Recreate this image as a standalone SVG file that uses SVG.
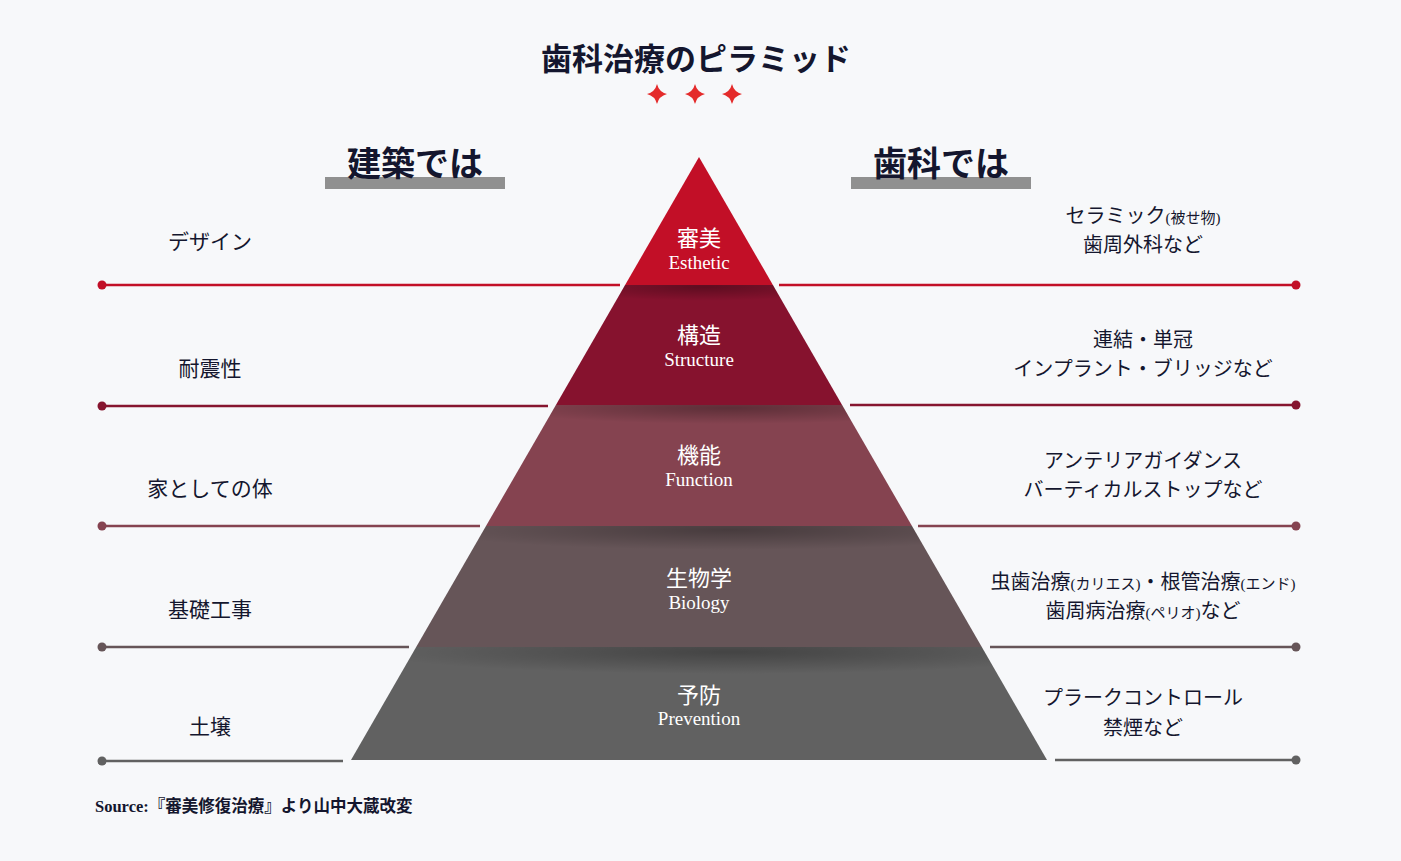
<svg xmlns="http://www.w3.org/2000/svg" width="1401" height="861" viewBox="0 0 1401 861">
<style>
.t{font-family:"Liberation Serif","Noto Sans CJK JP",serif;fill:#14162e;text-anchor:middle}
.h{font-size:34px;font-weight:bold}
.l{font-size:21px}
.r{font-size:20px}
.s{font-size:15px}
.w{font-family:"Liberation Serif","Noto Sans CJK JP",serif;fill:#fff;text-anchor:middle}
.wj{font-size:22px}
.we{font-size:19px}
.ln{stroke-width:2.5;fill:none}
</style>
<defs>
<radialGradient id="sh" cx="0.5" cy="0.5" r="0.5">
<stop offset="0" stop-color="#000" stop-opacity="0.3"/>
<stop offset="0.6" stop-color="#000" stop-opacity="0.12"/>
<stop offset="1" stop-color="#000" stop-opacity="0"/>
</radialGradient>
<clipPath id="c2"><polygon points="625.1,285 772.9,285 842.1,405 555.9,405"/></clipPath>
<clipPath id="c3"><polygon points="555.9,405 842.1,405 912,526 486,526"/></clipPath>
<clipPath id="c4"><polygon points="486,526 912,526 981.8,647 416.2,647"/></clipPath>
<clipPath id="c5"><polygon points="416.2,647 981.8,647 1047,760 351,760"/></clipPath>
</defs>
<rect width="1401" height="861" fill="#f7f8fa"/>
<g id="title">
<text class="t" x="696" y="70" style="font-size:31px;font-weight:bold">歯科治療のピラミッド</text>
<g fill="#e42b2b">
<path d="M657,84 Q659,92 667,94 Q659,96 657,104 Q655,96 647,94 Q655,92 657,84Z"/>
<path d="M695,84 Q697,92 705,94 Q697,96 695,104 Q693,96 685,94 Q693,92 695,84Z"/>
<path d="M732,84 Q734,92 742,94 Q734,96 732,104 Q730,96 722,94 Q730,92 732,84Z"/>
</g>
</g>
<g id="head-left">
<rect x="325" y="177" width="180" height="12" fill="#909090"/>
<text class="t h" x="415" y="176">建築では</text>
</g>
<g id="head-right">
<rect x="851" y="177" width="180" height="12" fill="#909090"/>
<text class="t h" x="941" y="176">歯科では</text>
</g>
<g id="connectors">
<g fill="#c20f27" stroke="#c20f27"><line class="ln" x1="102" y1="285" x2="620" y2="285"/><line class="ln" x1="779" y1="285" x2="1296" y2="285"/><circle cx="102" cy="285" r="4.5" stroke="none"/><circle cx="1296" cy="285" r="4.5" stroke="none"/></g>
<g fill="#86152f" stroke="#86152f"><line class="ln" x1="102" y1="406" x2="548" y2="406"/><line class="ln" x1="850" y1="405" x2="1296" y2="405"/><circle cx="102" cy="406" r="4.5" stroke="none"/><circle cx="1296" cy="405" r="4.5" stroke="none"/></g>
<g fill="#854350" stroke="#854350"><line class="ln" x1="102" y1="526" x2="480" y2="526"/><line class="ln" x1="918" y1="526" x2="1296" y2="526"/><circle cx="102" cy="526" r="4.5" stroke="none"/><circle cx="1296" cy="526" r="4.5" stroke="none"/></g>
<g fill="#665558" stroke="#665558"><line class="ln" x1="102" y1="647" x2="409" y2="647"/><line class="ln" x1="990" y1="647" x2="1296" y2="647"/><circle cx="102" cy="647" r="4.5" stroke="none"/><circle cx="1296" cy="647" r="4.5" stroke="none"/></g>
<g fill="#616161" stroke="#616161"><line class="ln" x1="102" y1="761" x2="343" y2="761"/><line class="ln" x1="1055" y1="760" x2="1296" y2="760"/><circle cx="102" cy="761" r="4.5" stroke="none"/><circle cx="1296" cy="760" r="4.5" stroke="none"/></g>
</g>
<g id="band-esthetic">
<polygon points="699,157 772.9,285 625.1,285" fill="#c20f27"/>
<text class="w wj" x="699" y="246">審美</text>
<text class="w we" x="699" y="269">Esthetic</text>
</g>
<g id="band-structure">
<polygon points="625.1,285 772.9,285 842.1,405 555.9,405" fill="#86122e"/>
<ellipse cx="705" cy="287" rx="140" ry="14" fill="url(#sh)" clip-path="url(#c2)"/>
<text class="w wj" x="699" y="343">構造</text>
<text class="w we" x="699" y="366">Structure</text>
</g>
<g id="band-function">
<polygon points="555.9,405 842.1,405 912,526 486,526" fill="#854350"/>
<ellipse cx="730" cy="408" rx="230" ry="16" fill="url(#sh)" clip-path="url(#c3)"/>
<text class="w wj" x="699" y="463">機能</text>
<text class="w we" x="699" y="486">Function</text>
</g>
<g id="band-biology">
<polygon points="486,526 912,526 981.8,647 416.2,647" fill="#665558"/>
<ellipse cx="730" cy="530" rx="300" ry="20" fill="url(#sh)" clip-path="url(#c4)"/>
<text class="w wj" x="699" y="586">生物学</text>
<text class="w we" x="699" y="609">Biology</text>
</g>
<g id="band-prevention">
<polygon points="416.2,647 981.8,647 1047,760 351,760" fill="#616161"/>
<ellipse cx="730" cy="652" rx="360" ry="22" fill="url(#sh)" clip-path="url(#c5)"/>
<text class="w wj" x="699" y="703">予防</text>
<text class="w we" x="699" y="725">Prevention</text>
</g>
<g id="left-labels">
<text class="t l" x="210" y="249">デザイン</text>
<text class="t l" x="210" y="376">耐震性</text>
<text class="t l" x="210" y="496">家としての体</text>
<text class="t l" x="210" y="617">基礎工事</text>
<text class="t l" x="210" y="734">土壌</text>
</g>
<g id="right-1">
<text class="t r" x="1143" y="223">セラミック<tspan class="s">(被せ物)</tspan></text>
<text class="t r" x="1143" y="252">歯周外科など</text>
</g>
<g id="right-2">
<text class="t r" x="1143" y="347">連結・単冠</text>
<text class="t r" x="1143" y="376">インプラント・ブリッジなど</text>
</g>
<g id="right-3">
<text class="t r" x="1143" y="468">アンテリアガイダンス</text>
<text class="t r" x="1143" y="497">バーティカルストップなど</text>
</g>
<g id="right-4">
<text class="t r" x="1143" y="589">虫歯治療<tspan class="s">(カリエス)</tspan>・根管治療<tspan class="s">(エンド)</tspan></text>
<text class="t r" x="1143" y="618">歯周病治療<tspan class="s">(ペリオ)</tspan>など</text>
</g>
<g id="right-5">
<text class="t r" x="1143" y="705">プラークコントロール</text>
<text class="t r" x="1143" y="735">禁煙など</text>
</g>
<text class="t" x="95" y="812" style="font-size:16.5px;font-weight:bold;text-anchor:start">Source:『審美修復治療』より山中大蔵改変</text>
</svg>
